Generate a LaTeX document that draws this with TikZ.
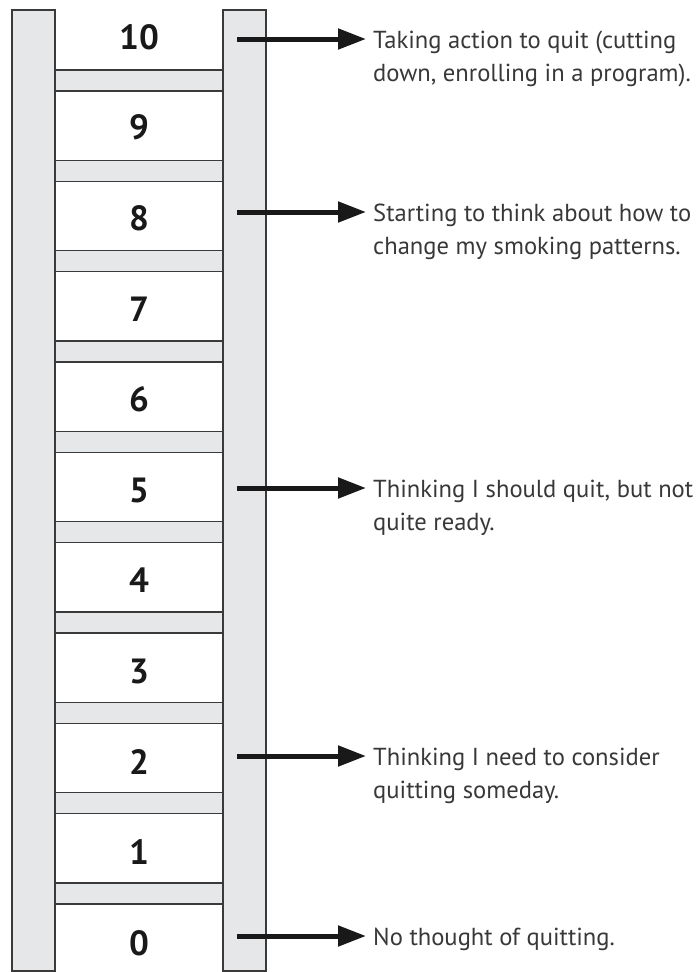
\documentclass[tikz,border=0pt]{standalone}
\usepackage{fontspec}
\setmainfont{PT Sans}
\usetikzlibrary{arrows.meta}
\definecolor{railgray}{HTML}{E6E7E8}
\definecolor{edgegray}{HTML}{3A3A3A}
\begin{document}
\begin{tikzpicture}[x=1pt,y=-1pt,
  rail/.style={fill=railgray,draw=edgegray,line width=1.1pt},
  rungfill/.style={fill=railgray},
  rungedge/.style={draw=edgegray,line width=1.1pt},
  num/.style={font=\fontsize{35}{35}\selectfont\bfseries, text=black!90, inner sep=0pt},
  desc/.style={font=\fontsize{24.6}{33}\selectfont, text=black!78, anchor=base west, inner sep=0pt},
  arr/.style={line width=5pt, -{Triangle[length=28pt,width=20pt]}, draw=black!90, shorten >=7pt}
]
\useasboundingbox (0,0) rectangle (699,972);
% rungs
\foreach \k in {0,...,9}{
  \pgfmathsetmacro\yt{70+90.33*\k}
  \pgfmathsetmacro\yb{\yt+21}
  \fill[rungfill] (55,\yt) rectangle (223,\yb);
  \draw[rungedge] (55,\yt) -- (223,\yt);
  \draw[rungedge] (55,\yb) -- (223,\yb);
}
% rails
\draw[rail] (12,10) rectangle (55,971);
\draw[rail] (223,10) rectangle (266,971);
% numbers
\foreach \n in {0,...,10}{
  \node[num] (n\n) at (139,{37+90.6*(10-\n)}) {\n};
}
% descriptions
\coordinate (a10) at (237,39);
\node[desc] (t10a) at (373,48) {Taking action to quit (cutting};
\node[desc] (t10b) at (373,81) {down, enrolling in a program).};
\draw[arr] (a10) -- (a10 -| t10a.west);

\coordinate (a8) at (237,212);
\node[desc] (t8a) at (373,221) {Starting to think about how to};
\node[desc] (t8b) at (373,254) {change my smoking patterns.};
\draw[arr] (a8) -- (a8 -| t8a.west);

\coordinate (a5) at (237,488);
\node[desc] (t5a) at (373,497) {Thinking I should quit, but not};
\node[desc] (t5b) at (373,530) {quite ready.};
\draw[arr] (a5) -- (a5 -| t5a.west);

\coordinate (a2) at (237,756);
\node[desc] (t2a) at (373,765) {Thinking I need to consider};
\node[desc] (t2b) at (373,798) {quitting someday.};
\draw[arr] (a2) -- (a2 -| t2a.west);

\coordinate (a0) at (237,936);
\node[desc] (t0a) at (373,945) {No thought of quitting.};
\draw[arr] (a0) -- (a0 -| t0a.west);
\end{tikzpicture}
\end{document}
